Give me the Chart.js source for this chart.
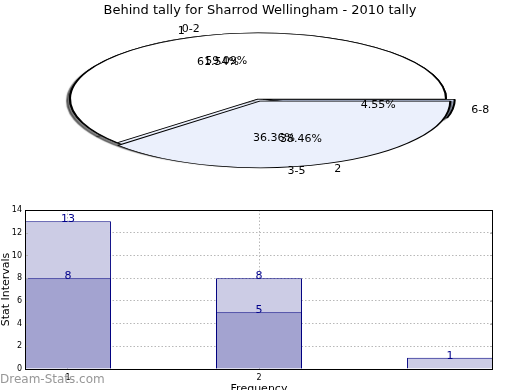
<!DOCTYPE html>
<html>
<head>
<meta charset="utf-8">
<script src="https://cdn.jsdelivr.net/npm/chart.js@4.4.0/dist/chart.umd.min.js"></script>
<style>
html, body { margin: 0; padding: 0; overflow: hidden; background: #fff; }
#wrap { position: relative; width: 520px; height: 390px; }
canvas { position: absolute; left: 0; }
</style>
</head>
<body>
<div id="wrap">
  <canvas id="pieOuter" width="520" height="390" style="top:0"></canvas>
  <canvas id="pieInner" width="520" height="390" style="top:0"></canvas>
  <canvas id="bars" width="520" height="205" style="top:195px"></canvas>
</div>
<script>
const chartTitle = 'Behind tally for Sharrod Wellingham - 2010 tally';
const innerLabels = ['1', '2'];
const innerValues = [8, 5];
const outerLabels = ['0-2', '3-5', '6-8'];
const outerValues = [13, 8, 1];
const barX = [1, 2, 3];
const barTicks = [1, 2];

Chart.defaults.font.family = 'DejaVu Sans';
Chart.defaults.color = '#000';

// ellipse the pie is squashed into
const PIE_CX = 258, PIE_CY = 99, PIE_RX = 188, PIE_RY = 66;

function pieTransform(chart) {
  const arc = chart.getDatasetMeta(0).data[0];
  return { x: arc.x, y: arc.y, sx: PIE_RX / arc.outerRadius, sy: -PIE_RY / arc.outerRadius };
}

function ellipse(shadow) {
  return {
    id: 'ellipse',
    beforeDatasetsDraw(chart) {
      const t = pieTransform(chart);
      const ctx = chart.ctx;
      ctx.save();
      if (shadow) {
        ctx.shadowColor = 'rgba(0,0,0,0.5)';
        ctx.shadowOffsetX = -3;
        ctx.shadowOffsetY = 2;
        ctx.shadowBlur = 1;
      }
      ctx.translate(PIE_CX, PIE_CY);
      ctx.scale(t.sx, t.sy);
      ctx.translate(-t.x, -t.y);
    },
    afterDatasetsDraw(chart) {
      chart.ctx.restore();
    }
  };
}

function drawPieLabels(ctx, chart, labels, values) {
  const t = pieTransform(chart);
  const total = values.reduce((a, b) => a + b, 0);
  ctx.save();
  ctx.font = '11px "DejaVu Sans"';
  ctx.fillStyle = '#000';
  ctx.textBaseline = 'middle';
  chart.getDatasetMeta(0).data.forEach((arc, i) => {
    const mid = (arc.startAngle + arc.endAngle) / 2;
    // same shift Chart.js applies to an offset slice
    const circ = arc.endAngle - arc.startAngle;
    const off = (arc.options.offset || 0) / 4 * (2 - Math.sin(Math.min(Math.PI, circ)));
    const at = d => [PIE_CX + t.sx * d * Math.cos(mid), PIE_CY + t.sy * d * Math.sin(mid)];
    const [lx, ly] = at(1.1 * arc.outerRadius + off);
    ctx.textAlign = lx > PIE_CX ? 'left' : 'right';
    ctx.fillText(labels[i], lx, ly);
    const [px, py] = at(0.6 * arc.outerRadius + off);
    ctx.textAlign = 'center';
    ctx.fillText((values[i] / total * 100).toFixed(2) + '%', px, py);
  });
  ctx.restore();
}

function pieOptions(extra) {
  return Object.assign({
    responsive: false,
    animation: false,
    events: [],
    rotation: 90,
    layout: { padding: 0 },
    plugins: { legend: { display: false }, tooltip: { enabled: false } }
  }, extra);
}

const pieOuter = new Chart(document.getElementById('pieOuter'), {
  type: 'pie',
  data: {
    labels: outerLabels,
    datasets: [{
      data: outerValues,
      backgroundColor: ['#ffffff', '#ebf0fc', '#c9d6f2'],
      borderColor: '#000',
      borderWidth: 2,
      offset: [0, 0, 19],
      clip: false
    }]
  },
  options: pieOptions({
    plugins: {
      legend: { display: false },
      tooltip: { enabled: false },
      title: { display: true, text: chartTitle, font: { size: 13, weight: 'normal' }, color: '#000', padding: { top: 3, bottom: 0 } }
    }
  }),
  plugins: [ellipse(true)]
});

new Chart(document.getElementById('pieInner'), {
  type: 'pie',
  data: {
    labels: innerLabels,
    datasets: [{
      data: innerValues,
      backgroundColor: ['#ffffff', '#ebf0fc'],
      borderColor: '#000',
      borderWidth: 2,
      offset: [0, 24],
      clip: false
    }]
  },
  options: pieOptions({}),
  plugins: [ellipse(false), {
    id: 'pieLabels',
    afterDraw(chart) {
      drawPieLabels(chart.ctx, pieOuter, outerLabels, outerValues);
      drawPieLabels(chart.ctx, chart, innerLabels, innerValues);
    }
  }]
});

const barExtras = {
  id: 'barExtras',
  afterDatasetsDraw(chart) {
    const ctx = chart.ctx;
    const a = chart.chartArea;
    const y = chart.scales.y;
    ctx.save();
    // value labels
    ctx.font = '11px "DejaVu Sans"';
    ctx.fillStyle = '#00008b';
    ctx.textAlign = 'center';
    ctx.textBaseline = 'alphabetic';
    chart.data.datasets.forEach((ds, di) => {
      chart.getDatasetMeta(di).data.forEach((bar, i) => {
        ctx.fillText(String(ds.data[i].y), bar.x, bar.y + 1);
      });
    });
    // small inward tick marks on both sides
    ctx.strokeStyle = '#b0b0b0';
    ctx.lineWidth = 1;
    y.ticks.forEach(tk => {
      const py = Math.round(y.getPixelForValue(tk.value)) + 0.5;
      ctx.beginPath();
      ctx.moveTo(a.left, py); ctx.lineTo(a.left + 3, py);
      ctx.moveTo(a.right, py); ctx.lineTo(a.right - 3, py);
      ctx.stroke();
    });
    // frame
    ctx.strokeStyle = '#000';
    ctx.strokeRect(Math.round(a.left) + 0.5, Math.round(a.top) + 0.5, Math.round(a.right - a.left) - 1, Math.round(a.bottom - a.top));
    ctx.restore();
  },
  afterDraw(chart) {
    const ctx = chart.ctx;
    ctx.save();
    ctx.font = '12px "DejaVu Sans"';
    ctx.fillStyle = 'rgba(140,140,140,0.9)';
    ctx.textAlign = 'left';
    ctx.textBaseline = 'middle';
    ctx.fillText('Dream-Stats.com', 0, 185);
    ctx.restore();
  }
};

new Chart(document.getElementById('bars'), {
  type: 'bar',
  data: {
    datasets: [
      {
        data: innerValues.map((v, i) => ({ x: barX[i], y: v })),
        backgroundColor: '#a3a3d0',
        borderColor: '#000080',
        borderWidth: 1
      },
      {
        data: outerValues.map((v, i) => ({ x: barX[i], y: v })),
        backgroundColor: '#ccccE5',
        borderColor: '#000080',
        borderWidth: 1
      }
    ]
  },
  options: {
    responsive: false,
    animation: false,
    events: [],
    layout: { padding: { top: 15, right: 27, left: 0, bottom: 0 } },
    datasets: { bar: { grouped: false, barPercentage: 0.45, categoryPercentage: 1 } },
    plugins: { legend: { display: false }, tooltip: { enabled: false } },
    scales: {
      x: {
        type: 'linear',
        offset: false,
        min: 0.775,
        max: 3.225,
        afterBuildTicks: s => { s.ticks = barTicks.map(v => ({ value: v })); },
        afterFit: s => { s.height = 31; },
        ticks: { font: { size: 8 }, color: '#000', padding: 4 },
        grid: { color: '#b8b8b8', drawTicks: false, offset: false },
        border: { display: false, dash: [1.5, 2] },
        title: { display: true, text: 'Frequency', font: { size: 11 }, color: '#000', padding: { top: 0, bottom: 4 } }
      },
      y: {
        min: 0,
        max: 14,
        afterFit: s => { s.width = 25; },
        ticks: { stepSize: 2, font: { size: 8 }, color: '#000', padding: 3 },
        grid: { color: '#b8b8b8', drawTicks: false },
        border: { display: false, dash: [1.5, 2] },
        title: { display: true, text: 'Stat Intervals', font: { size: 11 }, color: '#000', padding: 0 }
      }
    }
  },
  plugins: [barExtras]
});
</script>
</body>
</html>
